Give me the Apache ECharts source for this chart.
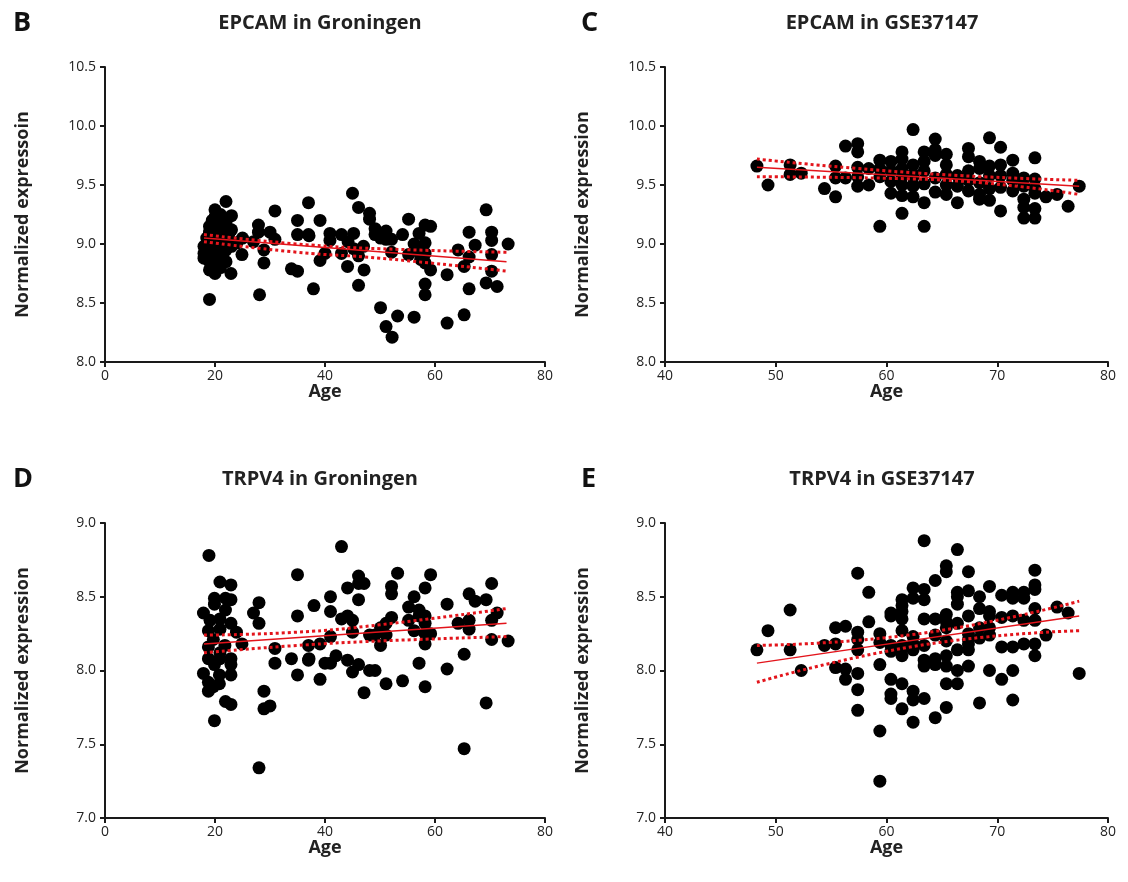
<!DOCTYPE html>
<html><head><meta charset="utf-8">
<script src="https://cdn.jsdelivr.net/npm/echarts@6/dist/echarts.min.js"></script>
<style>html,body{margin:0;padding:0;background:#fff}#c{width:1128px;height:882px}</style>
</head><body><div id="c"></div>
<script>
// ---- Panel B: EPCAM in Groningen [age, expression]
const epcamGroningen = [
 [18,8.98],[18,8.92],[18,8.88],[18.5,9.05],[18.5,8.95],[19,9.15],[19,9.10],[19,9.02],[19,8.85],[19,8.78],[19,8.53],
 [19.5,9.20],[19.5,9.12],[19.5,8.97],[19.5,8.90],[19.5,8.80],[20,9.29],[20,9.23],[20,9.08],[20,9.00],[20,8.93],[20,8.86],[20,8.75],
 [20.5,9.18],[20.5,9.05],[20.5,8.95],[21,9.25],[21,9.13],[21,9.06],[21,8.98],[21,8.88],[21,8.80],[21.5,9.10],[21.5,8.92],
 [22,9.36],[22,9.18],[22,9.02],[22,8.95],[22,8.85],[22.5,9.08],[23,9.24],[23,9.12],[23,8.98],[22.9,8.75],[24,9.01],[24.9,8.91],[25,9.05],
 [27,9.02],[27.9,9.16],[27.9,9.10],[28.1,8.57],[28.9,8.95],[28.9,8.84],[30,9.10],[30.9,9.28],[30.9,9.04],
 [33.9,8.79],[35,8.77],[35,9.20],[35,9.08],[37,9.35],[37,9.08],[37.1,9.07],[37.9,8.62],[39.1,9.20],[39.1,8.86],[40,8.92],
 [40.9,9.09],[40.9,9.03],[43,9.08],[43,8.92],[44.1,8.81],[44.2,9.02],[45,9.43],[45.2,9.09],[45.2,8.96],[46.1,9.31],[46.1,8.90],[46.1,8.65],
 [47,8.98],[47.1,8.78],[48.1,9.26],[48.1,9.21],[49.1,9.13],[49.1,9.08],[50.1,9.05],[50.1,8.46],[51.1,9.11],[51.1,9.04],[51.1,8.30],
 [52.1,9.04],[52.1,8.93],[52.2,8.21],[53.2,8.39],[54.1,9.08],[55.2,9.21],[55.2,8.91],[56.2,9.00],[56.2,8.38],[57.1,9.09],[57.1,8.93],[57.4,8.87],
 [58.2,9.16],[58.2,9.01],[58.2,8.92],[58.2,8.84],[58.2,8.66],[58.2,8.57],[59.2,9.15],[59.2,8.78],[62.2,8.74],[62.2,8.33],
 [64.2,8.95],[65.3,8.81],[65.3,8.40],[66.2,9.10],[66.2,8.89],[66.2,8.62],[67.3,8.99],[69.3,9.29],[69.3,8.67],
 [70.3,9.10],[70.3,9.03],[70.3,8.91],[70.3,8.77],[71.3,8.64],[73.3,9.00]
];
const epcamGroFit   = [[18,9.05],[73,8.85]];
const epcamGroUpper = [[18,9.08],[35,9.00],[50,8.96],[73,8.93]];
const epcamGroLower = [[18,9.02],[35,8.93],[50,8.88],[73,8.77]];

// ---- Panel C: EPCAM in GSE37147
const epcamGSE = [
 [48.3,9.66],[49.3,9.50],[51.3,9.67],[51.3,9.59],[52.3,9.60],[54.4,9.47],[55.4,9.66],[55.4,9.56],[55.4,9.40],
 [56.3,9.83],[56.3,9.56],[57.4,9.85],[57.4,9.78],[57.4,9.65],[57.4,9.57],[57.4,9.49],[58.4,9.64],[58.4,9.50],
 [59.4,9.71],[59.4,9.64],[59.4,9.57],[59.4,9.15],[60.4,9.70],[60.4,9.62],[60.4,9.53],[60.4,9.43],
 [61.4,9.78],[61.4,9.72],[61.4,9.64],[61.4,9.57],[61.4,9.50],[61.4,9.41],[61.4,9.26],
 [62.4,9.97],[62.4,9.67],[62.4,9.59],[62.4,9.50],[62.4,9.40],[62.4,9.57],[62.4,9.49],
 [63.4,9.78],[63.4,9.70],[63.4,9.62],[63.4,9.51],[63.4,9.35],[63.4,9.15],
 [64.4,9.89],[64.4,9.80],[64.4,9.75],[64.4,9.56],[64.4,9.44],
 [65.4,9.76],[65.4,9.67],[65.4,9.59],[65.4,9.50],[65.4,9.42],[66.4,9.58],[66.4,9.49],[66.4,9.35],
 [67.4,9.81],[67.4,9.74],[67.4,9.62],[67.4,9.54],[67.4,9.45],[68.4,9.70],[68.4,9.64],[68.4,9.52],[68.4,9.42],[68.4,9.38],
 [69.3,9.90],[69.3,9.66],[69.3,9.58],[69.3,9.47],[69.3,9.37],[70.3,9.82],[70.3,9.67],[70.3,9.58],[70.3,9.48],[70.3,9.28],
 [71.4,9.71],[71.4,9.60],[71.4,9.54],[71.4,9.45],[72.4,9.56],[72.4,9.49],[72.4,9.38],[72.4,9.31],[72.4,9.22],
 [73.4,9.73],[73.4,9.55],[73.4,9.47],[73.4,9.43],[73.4,9.30],[73.4,9.22],[74.4,9.40],[75.4,9.42],[76.4,9.32],[77.4,9.49]
];
const epcamGSEFit   = [[48.3,9.65],[77.4,9.49]];
const epcamGSEUpper = [[48.3,9.72],[63,9.60],[77.4,9.54]];
const epcamGSELower = [[48.3,9.57],[63,9.55],[77.4,9.42]];

// ---- Panel D: TRPV4 in Groningen
const trpv4Groningen = [
 [18.9,8.78],[20.9,8.60],[22.9,8.58],[19.9,8.49],[21.9,8.49],[22.9,8.48],[19.9,8.45],[21.9,8.41],[17.9,8.39],[19.1,8.34],[20.9,8.35],
 [22.9,8.32],[18.8,8.27],[20.9,8.28],[23.9,8.26],[19.7,8.21],[21.8,8.17],[24.9,8.18],[18.8,8.16],[20.9,8.12],[18.8,8.08],[20.9,8.08],
 [22.9,8.08],[22.9,8.04],[19.9,8.04],[17.9,7.98],[20.8,7.97],[22.9,7.97],[18.8,7.92],[20.8,7.91],[19.7,7.89],[18.8,7.86],[21.9,7.79],
 [22.9,7.77],[19.9,7.66],[28.0,8.46],[27.0,8.39],[28.0,8.32],[28.9,7.86],[28.9,7.74],[30.0,7.76],[28.0,7.34],[30.9,8.15],[30.9,8.05],
 [33.9,8.08],[35.0,8.65],[35.0,8.37],[37.0,8.17],[37.0,8.07],[35.0,7.97],[38.0,8.44],[43.0,8.84],[41.0,8.50],[41.0,8.40],[44.1,8.56],
 [46.1,8.64],[47.1,8.59],[46.1,8.59],[46.1,8.48],[43.0,8.35],[44.1,8.37],[45.0,8.34],[45.0,8.26],[41.0,8.23],[39.1,8.18],[37.1,8.08],
 [40.0,8.05],[41.0,8.05],[42.0,8.10],[44.1,8.07],[46.1,8.04],[45.0,7.99],[48.1,8.00],[49.1,8.00],[47.1,7.85],[39.1,7.94],[50.1,8.17],
 [51.1,8.24],[49.1,8.24],[48.1,8.24],[50.1,8.29],[51.1,8.32],[52.1,8.36],[52.1,8.52],[52.1,8.57],[53.2,8.66],[51.1,7.91],[54.1,7.93],
 [55.2,8.43],[55.2,8.34],[56.2,8.50],[56.2,8.27],[57.1,8.41],[57.1,8.37],[58.2,8.56],[58.2,8.37],[58.2,8.32],[58.2,8.25],[59.2,8.25],
 [58.2,8.18],[59.2,8.65],[57.1,8.05],[58.2,7.89],[62.2,8.45],[62.2,8.01],[64.2,8.32],[65.3,8.11],[65.3,7.47],[66.2,8.52],[66.2,8.34],
 [66.2,8.28],[67.3,8.47],[69.3,8.48],[69.3,7.78],[70.3,8.59],[70.3,8.34],[70.3,8.21],[71.3,8.39],[73.3,8.20]
];
const trpv4GroFit   = [[18,8.18],[73,8.32]];
const trpv4GroUpper = [[18,8.24],[35,8.26],[50,8.31],[73,8.42]];
const trpv4GroLower = [[18,8.12],[35,8.17],[50,8.20],[73,8.23]];

// ---- Panel E: TRPV4 in GSE37147
const trpv4GSE = [
 [48.3,8.14],[49.3,8.27],[51.3,8.41],[51.3,8.14],[52.3,8.00],[54.4,8.17],[55.4,8.29],[55.4,8.18],[55.4,8.02],
 [56.3,8.30],[56.3,8.01],[56.3,7.94],[57.4,8.66],[57.4,8.26],[57.4,8.21],[57.4,8.14],[57.4,7.98],[57.4,7.87],[57.4,7.73],
 [58.4,8.53],[58.4,8.33],[59.4,8.25],[59.4,8.19],[59.4,8.04],[59.4,7.59],[59.4,7.25],
 [60.4,8.39],[60.4,8.37],[60.4,8.17],[60.4,8.13],[60.4,7.94],[60.4,7.84],[60.4,7.81],
 [61.4,8.48],[61.4,8.44],[61.4,8.40],[61.4,8.35],[61.4,8.27],[61.4,8.17],[61.4,8.14],[61.4,8.10],[61.4,7.91],[61.4,7.74],
 [62.4,8.56],[62.4,8.49],[62.4,8.23],[62.4,8.18],[62.4,8.14],[62.4,7.86],[62.4,7.80],[62.4,7.65],
 [63.4,8.88],[63.4,8.55],[63.4,8.48],[63.4,8.35],[63.4,8.17],[63.4,8.07],[63.4,8.03],[63.4,7.81],
 [64.4,8.61],[64.4,8.35],[64.4,8.24],[64.4,8.08],[64.4,8.04],[64.4,7.68],
 [65.4,8.71],[65.4,8.67],[65.4,8.38],[65.4,8.33],[65.4,8.29],[65.4,8.20],[65.4,8.10],[65.4,8.03],[65.4,7.91],[65.4,7.75],
 [66.4,8.82],[66.4,8.53],[66.4,8.50],[66.4,8.45],[66.4,8.32],[66.4,8.14],[66.4,8.00],[66.4,7.91],
 [67.4,8.67],[67.4,8.54],[67.4,8.37],[67.4,8.25],[67.4,8.21],[67.4,8.18],[67.4,8.14],[67.4,8.03],
 [68.4,8.50],[68.4,8.42],[68.4,8.29],[68.4,8.22],[68.4,7.78],
 [69.3,8.57],[69.3,8.40],[69.3,8.37],[69.3,8.29],[69.3,8.24],[69.3,8.00],
 [70.4,8.51],[70.4,8.36],[70.4,8.16],[70.4,7.94],
 [71.4,8.53],[71.4,8.49],[71.4,8.37],[71.4,8.16],[71.4,8.00],[71.4,7.80],
 [72.4,8.53],[72.4,8.49],[72.4,8.34],[72.4,8.18],
 [73.4,8.68],[73.4,8.58],[73.4,8.55],[73.4,8.42],[73.4,8.34],[73.4,8.18],[73.4,8.10],
 [74.4,8.24],[75.4,8.43],[76.4,8.39],[77.4,7.98]
];
const trpv4GSEFit   = [[48.3,8.05],[77.4,8.37]];
const trpv4GSEUpper = [[48.3,8.17],[63,8.25],[77.4,8.47]];
const trpv4GSELower = [[48.3,7.92],[63,8.17],[77.4,8.27]];

// ---- Panel texts and axes
const panelLetters = ['B','C','D','E'];
const panelTitles = ['EPCAM in Groningen','EPCAM in GSE37147','TRPV4 in Groningen','TRPV4 in GSE37147'];
const yNames = ['Normalized expressoin','Normalized expression','Normalized expression','Normalized expression'];
const xName = 'Age';
const xRanges = [[0,80,20],[40,80,10],[0,80,20],[40,80,10]];
const yRanges = [[8.0,10.5,0.5],[8.0,10.5,0.5],[7.0,9.0,0.5],[7.0,9.0,0.5]];

const panels = [
 {pts: epcamGroningen, fit: epcamGroFit, up: epcamGroUpper, lo: epcamGroLower},
 {pts: epcamGSE, fit: epcamGSEFit, up: epcamGSEUpper, lo: epcamGSELower},
 {pts: trpv4Groningen, fit: trpv4GroFit, up: trpv4GroUpper, lo: trpv4GroLower},
 {pts: trpv4GSE, fit: trpv4GSEFit, up: trpv4GSEUpper, lo: trpv4GSELower}
];

const FONT = '"Open Sans", "Noto Sans", sans-serif';
const grids = [
 {left:105, top:67, width:440, height:295},
 {left:665, top:67, width:443, height:295},
 {left:105, top:523, width:440, height:295},
 {left:665, top:523, width:443, height:295}
];
const titleX = [315, 877, 315, 877];
const titleY = [8, 8, 464, 464];
const letterX = [8, 576, 8, 576];

const RED = '#e3141b';
const axisLine = {show:true, lineStyle:{color:'#1a1a1a', width:2}};
const axisTick = {show:true, length:5, lineStyle:{color:'#1a1a1a', width:2}};
const axisLabel = {color:'#222', fontSize:14, fontFamily:FONT};

const option = {
 animation:false,
 backgroundColor:'#fff',
 title: [],
 grid: grids,
 xAxis: [], yAxis: [], series: []
};
for (let i=0;i<4;i++){
 option.title.push({text:panelTitles[i], left:titleX[i], top:titleY[i], textAlign:'center',
   textStyle:{fontSize:20, fontWeight:'bold', fontFamily:FONT, color:'#222'}});
 option.title.push({text:panelLetters[i], left:letterX[i], top:titleY[i]-3,
   textStyle:{fontSize:27, fontWeight:'bold', fontFamily:FONT, color:'#111'}});
 option.xAxis.push({type:'value', gridIndex:i, min:xRanges[i][0], max:xRanges[i][1], interval:xRanges[i][2],
   name:xName, nameLocation:'middle', nameGap:21, nameMoveOverlap:false,
   nameTextStyle:{fontSize:18, fontWeight:'bold', fontFamily:FONT, color:'#222', verticalAlign:'top'},
   axisLine, axisTick, axisLabel:Object.assign({margin:7}, axisLabel), splitLine:{show:false}});
 option.yAxis.push({type:'value', gridIndex:i, min:yRanges[i][0], max:yRanges[i][1], interval:yRanges[i][2],
   name:yNames[i], nameLocation:'middle', nameGap:73, nameMoveOverlap:false,
   nameTextStyle:{fontSize:18, fontWeight:'bold', fontFamily:FONT, color:'#222'},
   axisLine, axisTick, axisLabel:Object.assign({margin:9, formatter:v=>v.toFixed(1)}, axisLabel), splitLine:{show:false}});
 const p = panels[i];
 option.series.push({type:'scatter', xAxisIndex:i, yAxisIndex:i, data:p.pts, symbolSize:13,
   itemStyle:{color:'#000', opacity:1}, z:2});
 option.series.push({type:'line', xAxisIndex:i, yAxisIndex:i, data:p.fit, showSymbol:false,
   lineStyle:{color:RED, width:1.5}, z:3, silent:true});
 option.series.push({type:'line', xAxisIndex:i, yAxisIndex:i, data:p.up, showSymbol:false, smooth:true,
   lineStyle:{color:RED, width:3, type:[3,3]}, z:3, silent:true});
 option.series.push({type:'line', xAxisIndex:i, yAxisIndex:i, data:p.lo, showSymbol:false, smooth:true,
   lineStyle:{color:RED, width:3, type:[3,3]}, z:3, silent:true});
}
const chart = echarts.init(document.getElementById('c'), null, {renderer:'canvas'});
chart.setOption(option);
</script>
</body></html>
